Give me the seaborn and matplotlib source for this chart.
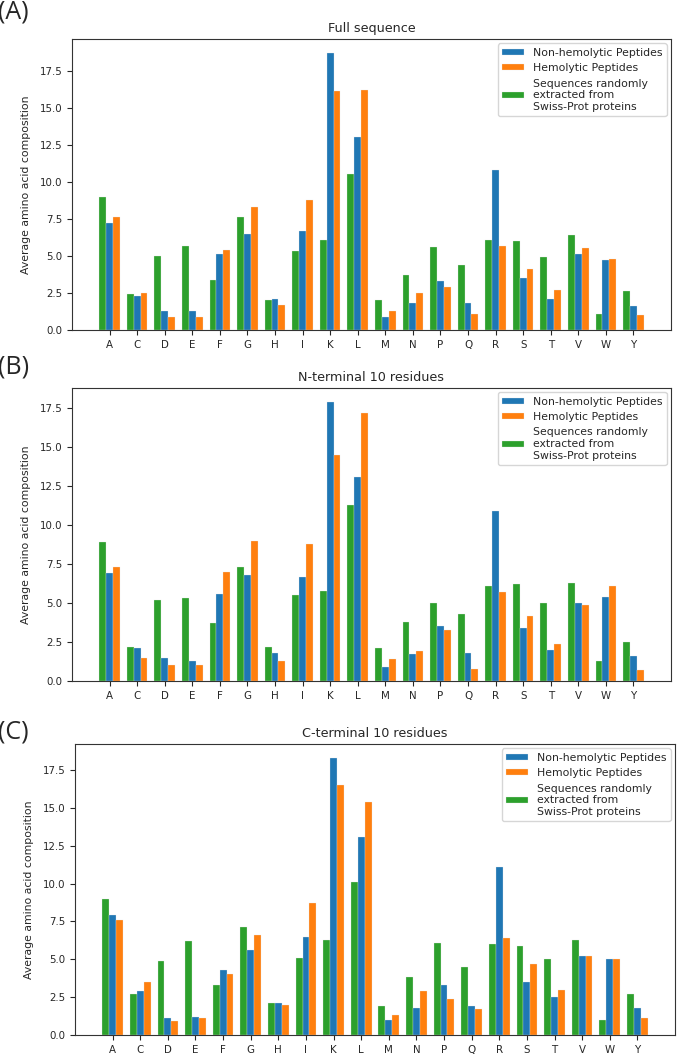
import numpy as np
import pandas as pd
import matplotlib
matplotlib.use("Agg")
import matplotlib.pyplot as plt
import seaborn as sns

amino_acids = ['A', 'C', 'D', 'E', 'F', 'G', 'H', 'I', 'K', 'L',
               'M', 'N', 'P', 'Q', 'R', 'S', 'T', 'V', 'W', 'Y']

# (A) Full sequence
full_nonhemo = [7.2, 2.3, 1.3, 1.3, 5.1, 6.5, 2.1, 6.7, 18.7, 13.0,
                0.9, 1.8, 3.3, 1.8, 10.8, 3.5, 2.1, 5.1, 4.7, 1.6]
full_hemo = [7.6, 2.5, 0.9, 0.9, 5.4, 8.3, 1.7, 8.8, 16.1, 16.2,
             1.3, 2.5, 2.9, 1.1, 5.7, 4.1, 2.7, 5.5, 4.8, 1.0]
full_swiss = [9.0, 2.4, 5.0, 5.7, 3.4, 7.6, 2.0, 5.3, 6.1, 10.5,
              2.0, 3.7, 5.6, 4.4, 6.1, 6.0, 4.9, 6.4, 1.1, 2.6]

# (B) N-terminal 10 residues
nterm_nonhemo = [6.9, 2.1, 1.5, 1.3, 5.6, 6.8, 1.8, 6.7, 17.9, 13.1,
                 0.9, 1.7, 3.5, 1.8, 10.9, 3.4, 2.0, 5.0, 5.4, 1.6]
nterm_hemo = [7.3, 1.5, 1.0, 1.0, 7.0, 9.0, 1.3, 8.8, 14.5, 17.2,
              1.4, 1.9, 3.3, 0.8, 5.7, 4.2, 2.4, 4.9, 6.1, 0.7]
nterm_swiss = [8.9, 2.2, 5.2, 5.3, 3.7, 7.3, 2.2, 5.5, 5.8, 11.3,
               2.1, 3.8, 5.0, 4.3, 6.1, 6.2, 5.0, 6.3, 1.3, 2.5]

# (C) C-terminal 10 residues
cterm_nonhemo = [7.9, 2.9, 1.1, 1.2, 4.3, 5.6, 2.1, 6.5, 18.3, 13.1,
                 1.0, 1.8, 3.3, 1.9, 11.1, 3.5, 2.5, 5.2, 5.0, 1.8]
cterm_hemo = [7.6, 3.5, 0.9, 1.1, 4.0, 6.6, 2.0, 8.7, 16.5, 15.4,
              1.3, 2.9, 2.4, 1.7, 6.4, 4.7, 3.0, 5.2, 5.0, 1.1]
cterm_swiss = [9.0, 2.7, 4.9, 6.2, 3.3, 7.1, 2.1, 5.1, 6.3, 10.1,
               1.9, 3.8, 6.1, 4.5, 6.0, 5.9, 5.0, 6.3, 1.0, 2.7]

label_nonhemo = 'Non-hemolytic Peptides'
label_hemo = 'Hemolytic Peptides'
label_swiss = 'Sequences randomly\nextracted from\nSwiss-Prot proteins'

# bars are drawn swiss, non-hemolytic, hemolytic from left to right
hue_order = [label_swiss, label_nonhemo, label_hemo]
palette = {label_nonhemo: '#1f77b4', label_hemo: '#ff7f0e', label_swiss: '#2ca02c'}


def composition_panel(ax, nonhemo, hemo, swiss, title):
    df = pd.DataFrame({
        'residue': amino_acids * 3,
        'value': swiss + nonhemo + hemo,
        'group': [label_swiss] * 20 + [label_nonhemo] * 20 + [label_hemo] * 20,
    })
    sns.barplot(data=df, x='residue', y='value', hue='group', hue_order=hue_order,
                palette=palette, width=0.75, errorbar=None, linewidth=0.2,
                edgecolor='#e8e8e8', saturation=1, ax=ax)
    ax.set_xlim(-1.3625, 20.3625)
    ax.set_title(title, fontsize=9.2, pad=5)
    ax.set_xlabel('')
    ax.set_ylabel('Average amino acid composition', fontsize=7.8, labelpad=6)
    ax.set_yticks(np.arange(0, 18, 2.5))
    ax.tick_params(labelsize=7.4, length=3.5, width=0.8)

    # legend order differs from the drawing order
    handles, labels = ax.get_legend_handles_labels()
    order = [1, 2, 0]
    ax.legend([handles[i] for i in order], [labels[i] for i in order],
              loc='upper right', fontsize=7.8, handleheight=0.5,
              borderaxespad=0.4)


sns.set_style('ticks')
plt.rcParams['axes.edgecolor'] = '0.2'
plt.rcParams['axes.linewidth'] = 0.8

fig = plt.figure(figsize=(6.85, 10.54), dpi=100)
ax_a = fig.add_axes([72 / 685, 1 - 330 / 1054, 599 / 685, 291 / 1054])
ax_b = fig.add_axes([72 / 685, 1 - 681 / 1054, 599 / 685, 293 / 1054])
ax_c = fig.add_axes([75 / 685, 1 - 1035 / 1054, 600 / 685, 291 / 1054])

composition_panel(ax_a, full_nonhemo, full_hemo, full_swiss, 'Full sequence')
composition_panel(ax_b, nterm_nonhemo, nterm_hemo, nterm_swiss, 'N-terminal 10 residues')
composition_panel(ax_c, cterm_nonhemo, cterm_hemo, cterm_swiss, 'C-terminal 10 residues')

for letter, ypix in [('(A)', 12), ('(B)', 367), ('(C)', 732)]:
    fig.text(-0.003, 1 - ypix / 1054, letter, fontsize=18, family=['Open Sans', 'DejaVu Sans'],
             va='center', ha='left')

fig.savefig('out.png', dpi=100)
